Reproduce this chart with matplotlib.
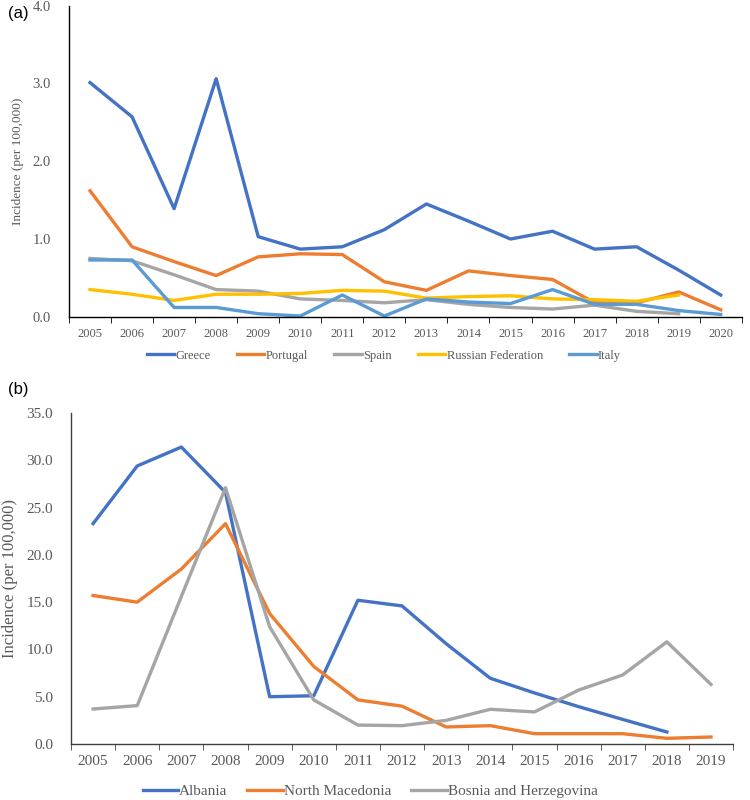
import matplotlib
matplotlib.use('Agg')
import matplotlib.pyplot as plt
import numpy as np

plt.rcParams['font.family'] = ['Liberation Serif', 'DejaVu Serif']

# (a) data
years_a = [str(y) for y in range(2005, 2021)]
greece = [3.01, 2.57, 1.39, 3.06, 1.03, 0.87, 0.90, 1.12, 1.45, 1.23, 1.00, 1.10, 0.87, 0.90, 0.60, 0.28]
portugal = [1.62, 0.90, 0.71, 0.53, 0.77, 0.81, 0.80, 0.45, 0.34, 0.59, 0.53, 0.48, 0.18, 0.18, 0.32, 0.09]
spain = [0.75, 0.72, 0.54, 0.35, 0.33, 0.23, 0.21, 0.18, 0.22, 0.16, 0.12, 0.10, 0.15, 0.07, 0.04]
russia = [0.35, 0.29, 0.21, 0.29, 0.29, 0.30, 0.34, 0.33, 0.24, 0.26, 0.27, 0.23, 0.22, 0.20, 0.28]
italy = [0.73, 0.73, 0.12, 0.12, 0.04, 0.01, 0.28, 0.01, 0.23, 0.19, 0.17, 0.35, 0.16, 0.16, 0.08, 0.03]

# (b) data
years_b = [str(y) for y in range(2005, 2020)]
albania = [23.3, 29.4, 31.4, 26.6, 5.0, 5.1, 15.2, 14.6, 10.6, 6.95, 5.4, 3.95, 2.6, 1.27]
n_macedonia = [15.7, 15.0, 18.5, 23.3, 13.8, 8.2, 4.66, 4.0, 1.8, 1.94, 1.09, 1.09, 1.09, 0.6, 0.74]
bosnia = [3.7, 4.06, 15.6, 27.1, 12.4, 4.66, 2.0, 1.94, 2.5, 3.67, 3.39, 5.7, 7.3, 10.8, 6.3]

BLUE = '#4472C4'
ORANGE = '#ED7D31'
GRAY = '#A5A5A5'
YELLOW = '#FFC000'
LBLUE = '#5B9BD5'
TXT = '#595959'

fig = plt.figure(figsize=(7.5, 8), dpi=100)


def style_axis(ax, n, ymax, step, xfs, yfs, spine_color):
    ax.set_xlim(-0.5, n - 0.5)
    ax.set_ylim(0, ymax)
    ax.set_yticks(np.arange(0, ymax + 0.001, step))
    ax.set_yticklabels(['%.1f' % v for v in np.arange(0, ymax + 0.001, step)])
    ax.set_xticks(np.arange(n))
    ax.set_xticks(np.arange(-0.5, n, 1), minor=True)
    ax.tick_params(axis='x', which='major', length=0, pad=8, labelsize=xfs, labelcolor=TXT)
    ax.tick_params(axis='x', which='minor', length=4, direction='out', color=spine_color)
    ax.tick_params(axis='y', length=0, pad=13, labelsize=yfs, labelcolor=TXT)
    for s in ['top', 'right']:
        ax.spines[s].set_visible(False)
    for s in ['left', 'bottom']:
        ax.spines[s].set_color(spine_color)
        ax.spines[s].set_linewidth(1.0)


# panel (a)
ax1 = fig.add_axes([0.092, 0.604, 0.897, 0.389])
xa = np.arange(len(years_a))
ax1.plot(xa, greece, color=BLUE, lw=2.4, label='Greece')
ax1.plot(xa, portugal, color=ORANGE, lw=2.4, label='Portugal')
ax1.plot(xa[:len(spain)], spain, color=GRAY, lw=2.4, label='Spain')
ax1.plot(xa[:len(russia)], russia, color=YELLOW, lw=2.4, label='Russian Federation')
ax1.plot(xa, italy, color=LBLUE, lw=2.4, label='Italy')
style_axis(ax1, len(years_a), 4.0, 1.0, 9, 10.5, 'black')
ax1.set_xticklabels(years_a)
ax1.set_ylabel('Incidence (per 100,000)', fontsize=9.5, color=TXT, labelpad=6)
leg1 = ax1.legend(loc='upper center', bbox_to_anchor=(0.468, -0.07), ncol=5, frameon=False,
                  fontsize=9, handlelength=2.2, columnspacing=2.1, handletextpad=0.1)
for t in leg1.get_texts():
    t.set_color(TXT)

# panel (b)
ax2 = fig.add_axes([0.0947, 0.07, 0.8827, 0.41375])
xb = np.arange(len(years_b))
ax2.plot(xb[:len(albania)], albania, color=BLUE, lw=2.4, label='Albania')
ax2.plot(xb, n_macedonia, color=ORANGE, lw=2.4, label='North Macedonia')
ax2.plot(xb, bosnia, color=GRAY, lw=2.4, label='Bosnia and Herzegovina')
style_axis(ax2, len(years_b), 35.0, 5.0, 11, 11, '#404040')
ax2.set_xticklabels(years_b)
ax2.set_ylabel('Incidence (per 100,000)', fontsize=12, color=TXT, labelpad=6)
leg2 = ax2.legend(loc='upper center', bbox_to_anchor=(0.452, -0.08), ncol=3, frameon=False,
                  fontsize=11, handlelength=2.3, columnspacing=1.3, handletextpad=0.1)
for t in leg2.get_texts():
    t.set_color(TXT)

fig.text(0.011, 0.993, '(a)', fontsize=12, family='Liberation Sans', va='top', ha='left')
fig.text(0.011, 0.523, '(b)', fontsize=12, family='Liberation Sans', va='top', ha='left')

fig.savefig('out.png', dpi=100)
